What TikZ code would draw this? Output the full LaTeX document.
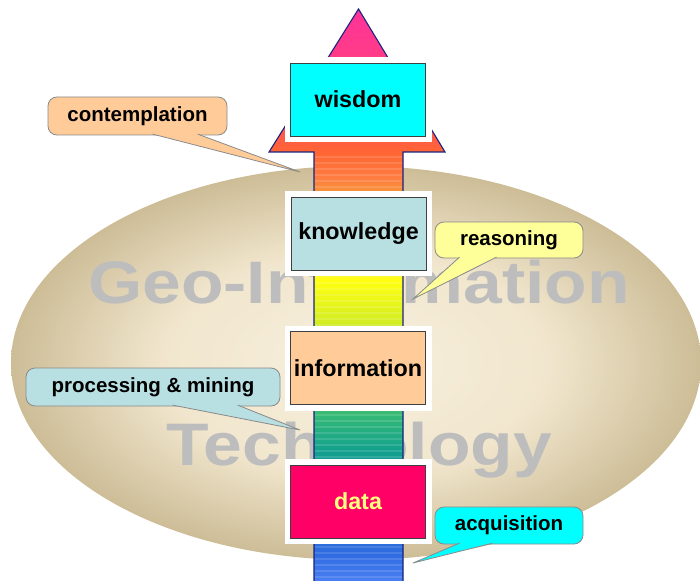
\documentclass[tikz,border=0pt]{standalone}
\usepackage{fontspec}
\newfontfamily\labfont{Liberation Sans}
\newfontfamily\wmfont{Liberation Sans}[FakeStretch=1.16]
\usetikzlibrary{calc}
\definecolor{eggin}{HTML}{F7F0DF}
\definecolor{eggmid}{HTML}{F1E6CD}
\definecolor{eggout}{HTML}{CDBD97}
\definecolor{wmgray}{HTML}{BDBDBD}
\definecolor{navy}{HTML}{1A237E}
\definecolor{cA}{HTML}{FF3399}
\definecolor{cB}{HTML}{FF4477}
\definecolor{cC}{HTML}{FF6633}
\definecolor{cD}{HTML}{FF7A40}
\definecolor{cE}{HTML}{F8903A}
\definecolor{cF}{HTML}{FFFF10}
\definecolor{cG}{HTML}{D4EE22}
\definecolor{cH}{HTML}{80D040}
\definecolor{cI}{HTML}{33B878}
\definecolor{cJ}{HTML}{12A08E}
\definecolor{cK}{HTML}{1E88B8}
\definecolor{cL}{HTML}{2E6BE0}
\definecolor{cM}{HTML}{4A7FF2}
\definecolor{wisfill}{HTML}{00FFFF}
\definecolor{knofill}{HTML}{B8DFE2}
\definecolor{inffill}{HTML}{FFCC99}
\definecolor{datfill}{HTML}{FF0066}
\definecolor{datatext}{HTML}{FFFF80}
\definecolor{reafill}{HTML}{FFFF99}
\definecolor{callline}{HTML}{8A8A8A}
\pgfdeclareradialshading{eggshade}{\pgfpoint{0bp}{0bp}}{color(0bp)=(eggin); color(14bp)=(eggmid); color(25bp)=(eggout); color(50bp)=(eggout)}
\pgfdeclareverticalshading{arrowshade}{100bp}{color(0bp)=(cM); color(25bp)=(cM); color(27.63bp)=(cL); color(32bp)=(cK); color(36.38bp)=(cJ); color(39.45bp)=(cI); color(43.39bp)=(cH); color(47.77bp)=(cG); color(51.27bp)=(cF); color(59.15bp)=(cE); color(60.46bp)=(cD); color(62.48bp)=(cC); color(67.03bp)=(cB); color(75bp)=(cA); color(100bp)=(cA)}
\newcommand\calltail[5]{%
  \path[fill=#5,draw=callline,line width=0.8pt,line join=miter]
    ($(#1.south west)+(#2,-1.3)$) -- (#4) -- ($(#1.south west)+(#3,-1.3)$);}
\begin{document}
\begin{tikzpicture}[x=1pt,y=-1pt,
  box/.style={draw=black!75, line width=0.9pt, minimum width=135pt, minimum height=73pt,
    inner sep=0pt, font=\labfont\bfseries\fontsize{23.3}{28}\selectfont,
    preaction={draw=white, line width=12pt}},
  callout/.style={draw=callline, line width=0.8pt, rounded corners=9pt, inner sep=0pt,
    font=\labfont\bfseries\fontsize{20.5}{24}\selectfont},
  watermark/.style={text=wmgray, inner sep=0pt, font=\wmfont\bfseries\fontsize{60}{70}\selectfont}]
\useasboundingbox (0,0) rectangle (700,580);
\fill[white] (0,0) rectangle (700,580);
% background egg
\shade[shading=eggshade] (356,363) ellipse [x radius=345pt, y radius=197pt];
% watermark
\node[watermark, anchor=base] (geo) at (359,303) {Geo-Information};
\node[watermark, anchor=base] (tech) at (359,465) {Technology};
% arrow
\shade[shading=arrowshade, draw=navy, line width=1.1pt, line join=miter]
  (358.5,9) -- (445,152) -- (403,152) -- (403,582) -- (314,582) -- (314,152) -- (269,152) -- cycle;
\foreach \yy in {157,163,...,580}
  \draw[white, opacity=0.13, line width=1.4pt] (315,\yy) -- (402,\yy);
% boxes
\node[box, fill=wisfill] (wis) at (358,99.5) {wisdom};
\node[box, fill=knofill] (kno) at (358.5,233.5) {knowledge};
\node[box, fill=inffill] (inf) at (358,368) {information};
\node[box, fill=datfill, text=datatext] (dat) at (358,501.5) {data};
% callouts
\coordinate (t1) at (300,172);
\coordinate (t2) at (413,299);
\coordinate (t3) at (300,430);
\coordinate (t4) at (413,563);
\node[callout, fill=inffill, minimum width=179pt, minimum height=38pt] (c1) at (137.5,116) {contemplation};
\calltail{c1}{105}{150}{t1}{inffill}
\node[callout, fill=reafill, minimum width=148pt, minimum height=36pt] (c2) at (509,240) {reasoning};
\calltail{c2}{25}{62}{t2}{reafill}
\node[callout, fill=knofill, minimum width=254pt, minimum height=38pt] (c3) at (153,387) {processing \& mining};
\calltail{c3}{147}{212}{t3}{knofill}
\node[callout, fill=wisfill, minimum width=148pt, minimum height=37pt] (c4) at (509,525.5) {acquisition};
\calltail{c4}{25}{58}{t4}{wisfill}
\end{tikzpicture}
\end{document}
